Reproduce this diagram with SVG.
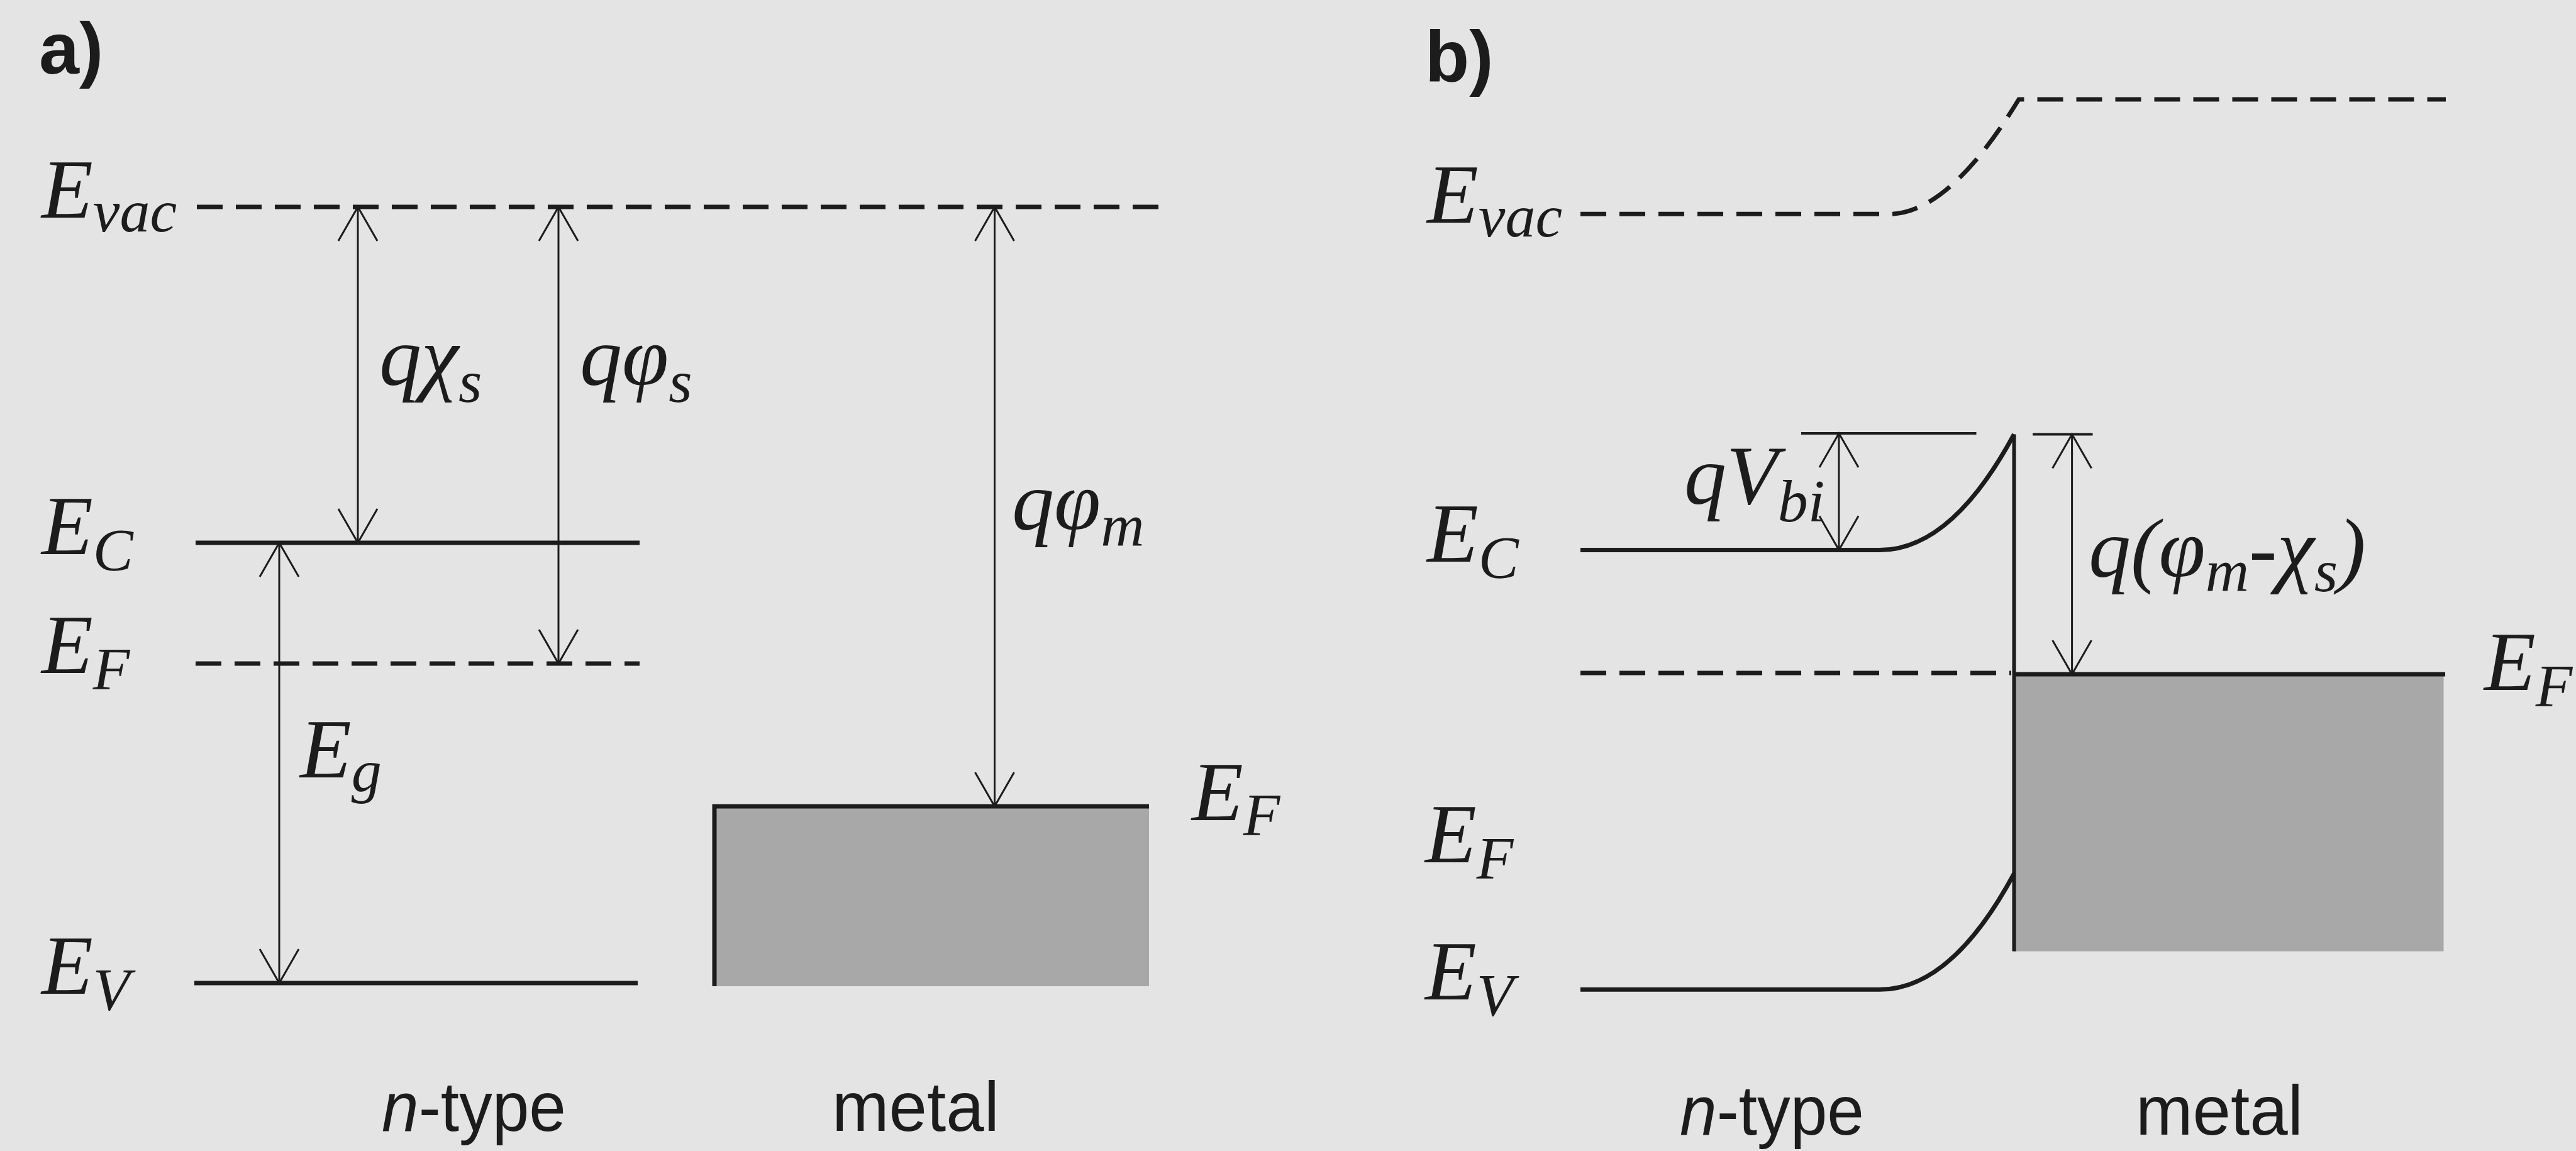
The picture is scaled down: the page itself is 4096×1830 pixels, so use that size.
<svg xmlns="http://www.w3.org/2000/svg" width="4096" height="1830" viewBox="0 0 4096 1830">
<defs>
<style>
.thick{stroke:#1c1c1c;stroke-width:7;fill:none}
.vert{stroke:#1c1c1c;stroke-width:6;fill:none}
.dash{stroke:#1c1c1c;stroke-width:7;fill:none;stroke-dasharray:41 21}
.ref{stroke:#1c1c1c;stroke-width:4;fill:none}
.arrow{stroke:#1c1c1c;stroke-width:3;fill:none;marker-start:url(#ah);marker-end:url(#ah)}
.m{font-family:"Liberation Serif","Times New Roman",serif;font-style:italic;font-size:134px;fill:#1c1c1c}
.s{font-size:96px}
.sans{font-family:"Liberation Sans",Arial,sans-serif;font-size:111px;fill:#1c1c1c}
.lab{font-family:"Liberation Sans",Arial,sans-serif;font-weight:bold;font-size:115px;fill:#1c1c1c}
.metal{fill:#a8a8a8}
</style>
<marker id="ah" viewBox="-60 -40 70 80" refX="0" refY="0" markerWidth="70" markerHeight="80" markerUnits="userSpaceOnUse" orient="auto-start-reverse" overflow="visible">
<path d="M-54,-31 L0,0 L-54,31" fill="none" stroke="#1c1c1c" stroke-width="3"/>
</marker>
</defs>
<rect width="4096" height="1830" fill="#e4e4e4"/>

<g id="panel-a">
<text class="lab" x="62" y="117">a)</text>
<g id="a-metal">
<rect class="metal" x="1136" y="1282" width="691" height="286"/>
<path class="thick" d="M1136,1568 V1282 H1827"/>
<text class="m" x="1895" y="1304">E<tspan class="s" dy="24">F</tspan></text>
</g>
<g id="a-evac">
<line class="dash" x1="313" y1="329" x2="1845" y2="329"/>
<text class="m" x="66" y="346">E<tspan class="s" dy="22">vac</tspan></text>
</g>
<g id="a-ec">
<line class="thick" x1="311" y1="863" x2="1017" y2="863"/>
<text class="m" x="66" y="881">E<tspan class="s" dy="26">C</tspan></text>
</g>
<g id="a-ef">
<line class="dash" x1="311" y1="1055" x2="1017" y2="1055"/>
<text class="m" x="66" y="1070">E<tspan class="s" dy="26">F</tspan></text>
</g>
<g id="a-ev">
<line class="thick" x1="309" y1="1563" x2="1014" y2="1563"/>
<text class="m" x="66" y="1580">E<tspan class="s" dy="26">V</tspan></text>
</g>
<text class="m" x="603" y="612">qχ<tspan class="s" dy="27">s</tspan></text>
<text class="m" x="922" y="612">qφ<tspan class="s" dy="27">s</tspan></text>
<text class="m" x="1609" y="842">qφ<tspan class="s" dy="26">m</tspan></text>
<text class="m" x="477" y="1236">E<tspan class="s" dy="22">g</tspan></text>
<text class="sans" x="607" y="1798" textLength="293" lengthAdjust="spacingAndGlyphs"><tspan font-style="italic">n</tspan>-type</text>
<text class="sans" x="1323" y="1798" textLength="266" lengthAdjust="spacingAndGlyphs">metal</text>
</g>

<g id="panel-b">
<text class="lab" x="2266" y="130">b)</text>
<g id="b-metal">
<rect class="metal" x="3202.5" y="1072" width="683" height="440.5"/>
<line class="thick" x1="3202.5" y1="1072" x2="3888" y2="1072"/>
<line class="vert" x1="3202.5" y1="690.5" x2="3202.5" y2="1512.5"/>
<text class="m" x="3950" y="1097">E<tspan class="s" dy="26">F</tspan></text>
</g>
<g id="b-evac">
<path class="dash" d="M2513,340.3 H3003.6 Q3099,340.3 3210,158 H3889"/>
<text class="m" x="2269" y="354">E<tspan class="s" dy="22">vac</tspan></text>
</g>
<g id="b-ec">
<path class="thick" d="M2513,874.6 H2988.8 Q3103,874.6 3202.5,690.5"/>
<text class="m" x="2269" y="893">E<tspan class="s" dy="26">C</tspan></text>
</g>
<g id="b-ef">
<line class="dash" x1="2513" y1="1070" x2="3198" y2="1070"/>
<text class="m" x="2266" y="1371">E<tspan class="s" dy="26">F</tspan></text>
</g>
<g id="b-ev">
<path class="thick" d="M2513,1573.3 H2988.8 Q3103,1573.3 3202.5,1389"/>
<text class="m" x="2266" y="1589">E<tspan class="s" dy="26">V</tspan></text>
</g>
<line class="ref" x1="2864" y1="689" x2="3142.5" y2="689"/>
<line class="ref" x1="3232" y1="690.5" x2="3327.5" y2="690.5"/>
<text class="m" x="2678" y="801">qV<tspan class="s" dy="28">bi</tspan></text>
<text class="m" x="3321" y="917">q(φ<tspan class="s" dy="23">m</tspan><tspan dy="-23">-χ</tspan><tspan class="s" dy="23">s</tspan><tspan dy="-23">)</tspan></text>
<text class="sans" x="2671" y="1804" textLength="293" lengthAdjust="spacingAndGlyphs"><tspan font-style="italic">n</tspan>-type</text>
<text class="sans" x="3396" y="1804" textLength="266" lengthAdjust="spacingAndGlyphs">metal</text>
</g>

<g id="connectors">
<line class="arrow" x1="569" y1="329" x2="569" y2="863"/>
<line class="arrow" x1="888" y1="329" x2="888" y2="1055"/>
<line class="arrow" x1="444" y1="863" x2="444" y2="1563"/>
<line class="arrow" x1="1581.5" y1="329" x2="1581.5" y2="1282"/>
<line class="arrow" x1="2924" y1="689" x2="2924" y2="874.6"/>
<line class="arrow" x1="3294.6" y1="690.5" x2="3294.6" y2="1072"/>
</g>
</svg>
